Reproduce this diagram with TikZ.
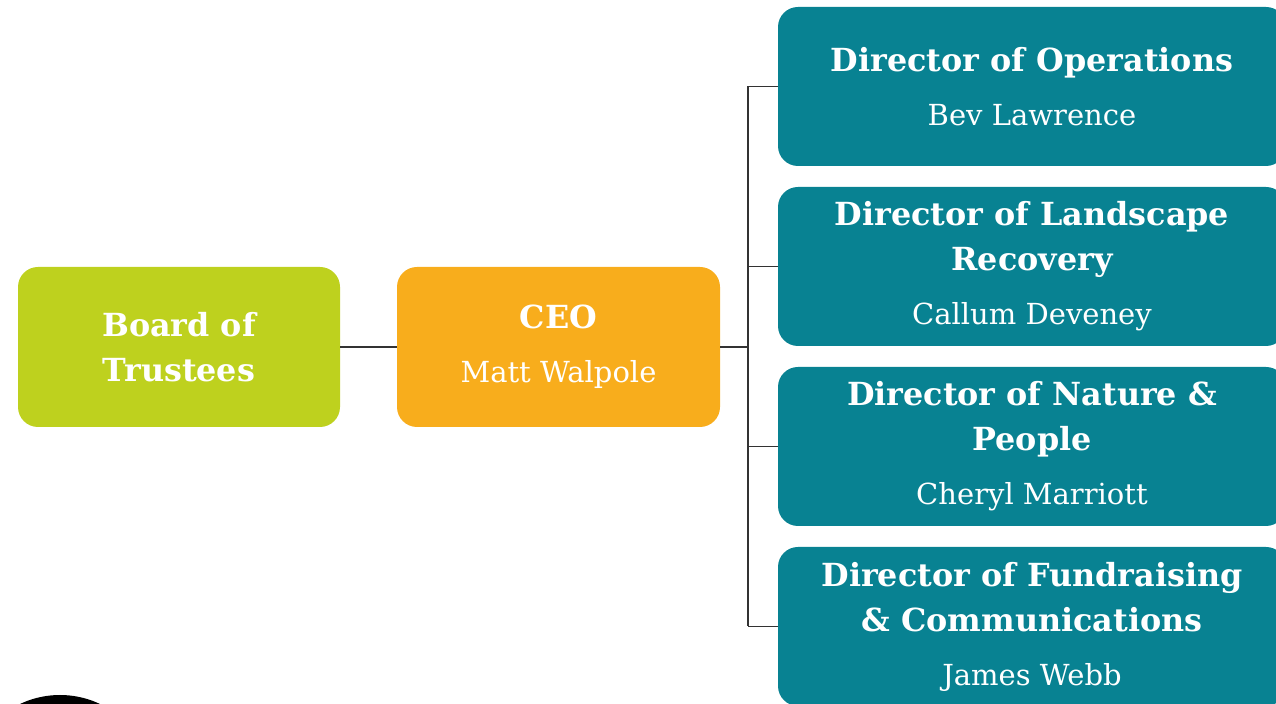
\documentclass[tikz,border=0pt]{standalone}
\usepackage{fontspec}
\setmainfont{DejaVu Serif}

\tikzset{
    box/.style={rounded corners=10pt, inner sep=0pt, align=center, text=white,
        font=\fontsize{14.5}{22.5}\selectfont},
    boardbox/.style={box, fill=board_green, minimum width=161pt, minimum height=80pt},
    ceobox/.style={box, fill=ceo_orange, minimum width=161.5pt, minimum height=80pt},
    dirbox/.style={box, fill=dir_teal, minimum width=254pt, minimum height=79.5pt},
    link/.style={draw=link_grey, line width=0.6pt},
}
\newcommand{\role}[1]{{\fontsize{15.9}{22.5}\selectfont\bfseries #1}}

\begin{document}
\begin{tikzpicture}[x=0.5pt, y=-0.5pt]
    \definecolor{board_green}{HTML}{BED11E}
    \definecolor{ceo_orange}{HTML}{F8AD1C}
    \definecolor{dir_teal}{HTML}{088292}
    \definecolor{link_grey}{HTML}{333333}
    %\draw[help lines] (0,0) grid[step=50] (1276,704);
    \useasboundingbox (0,0) rectangle (1276,704);
    \clip (0,0) rectangle (1276,704);

    \node[boardbox] (board) at (179,347) {\role{Board of}\\\role{Trustees}};
    \node[ceobox] (ceo) at (558.5,347) {\role{CEO}\\[4.5pt]Matt Walpole};

    \node[dirbox] (dir1) at (1032,86.5) {\role{Director of Operations}\\[4.5pt]Bev Lawrence};
    \node[dirbox] (dir2) at (1032,266.5) {\role{Director of Landscape}\\\role{Recovery}\\[4.5pt]Callum Deveney};
    \node[dirbox] (dir3) at (1032,446.5) {\role{Director of Nature \&}\\\role{People}\\[4.5pt]Cheryl Marriott};
    \node[dirbox] (dir4) at (1032,626.5) {\role{Director of Fundraising}\\\role{\& Communications}\\[4.5pt]James Webb};

    \coordinate (trunk) at (748,347);
    \draw[link] (board) -- (ceo);
    \draw[link] (ceo.east) -- (trunk);
    \draw[link] (trunk |- dir1.west) -- (trunk |- dir4.west);
    \foreach \d in {dir1,dir2,dir3,dir4}
        \draw[link] (trunk |- \d.west) -- (\d.west);

    % logo, cut off at the bottom
    \fill[black] (60,788) circle (46.5pt);
\end{tikzpicture}
\end{document}
